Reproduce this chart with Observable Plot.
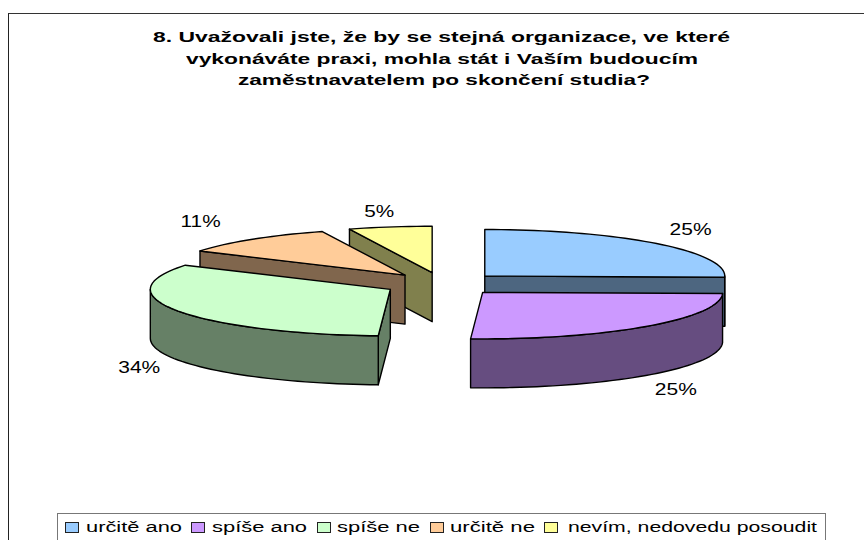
<!DOCTYPE html>
<html><head><meta charset="utf-8">
<script src="https://cdn.jsdelivr.net/npm/d3@7"></script>
<script src="https://cdn.jsdelivr.net/npm/@observablehq/plot@0.6"></script>
<style>
html,body{margin:0;padding:0;background:#fff;}
#page{position:relative;width:864px;height:540px;overflow:hidden;font-family:"Liberation Sans",Arial,sans-serif;color:#000;}
#frame{position:absolute;left:8px;top:13px;width:900px;height:600px;border-left:1.5px solid #222;border-top:1.5px solid #333;box-sizing:border-box;}
#chart{position:absolute;left:0;top:0;}
#legendBox{position:absolute;left:57px;top:513px;width:769px;height:60px;border:1.5px solid #777;box-sizing:border-box;background:#fff;}
.fit{position:absolute;white-space:pre;transform-origin:0 0;}
.title{font-weight:bold;font-size:15.5px;line-height:18px;}
.leg{font-size:15.5px;line-height:18px;}
.sw{position:absolute;width:12px;height:9px;border:1.5px solid #222;}
</style></head><body>
<div id="page"><div id="frame"></div><div id="chart"></div><div id="legendBox"></div></div>
<script>
// data
const categories = ["určitě ano","spíše ano","spíše ne","určitě ne","nevím, nedovedu posoudit"];
const percentLabels = ["25%","25%","34%","11%","5%"];
// slice shares as drawn in the picture (its 3D view skews the angles slightly)
const shares = [25.4,25.4,32.9,10.7,5.6];
const topColors = ["#99CCFF","#CC99FF","#CCFFCC","#FFCC99","#FFFF99"];
const sideColors = ["#4D6680","#664D80","#668066","#80664D","#80804D"];
const titleLines = ["8. Uvažovali jste, že by se stejná organizace, ve které","vykonáváte praxi, mohla stát i Vaším budoucím","zaměstnavatelem po skončení studia?"];

// layout
const pie = {cx:442, cy:283.5, rx:240, ry:46.5, depth:49/46.5, explode:0.246};
const labelNudge = [[34,-14],[30,14],[-39,7.5],[-52,-17],[-11,-15.5]];
const labelWidth = [42,42,42,40,30];
const titleFit = [{l:153,w:577,t:28},{l:186,w:512,t:50},{l:238,w:412,t:71}];
const legendFit = [{s:65,l:86,w:96},{s:191,l:212,w:95},{s:317,l:337,w:83},{s:430,l:450,w:85},{s:544,l:568,w:249}];

const rad = d => d*Math.PI/180;
const pt = (o,a) => [o[0]+Math.sin(a), o[1]+Math.cos(a)];
const down = p => [p[0], p[1]-pie.depth];

function arc(o,a0,a1){
  const n = Math.max(2,Math.ceil(Math.abs(a1-a0)/rad(2)));
  return d3.range(n+1).map(i=>pt(o,a0+(a1-a0)*i/n));
}
const marks = [];
const face = (poly,fill) => marks.push(Plot.line([...poly,poly[0]],{x:d=>d[0],y:d=>d[1],fill,stroke:"#000",strokeWidth:1.4,strokeLinejoin:"round"}));

let cum = 0;
const slices = shares.map((v,i)=>{
  const a0 = rad(cum*3.6); cum += v; const a1 = rad(cum*3.6);
  const m = (a0+a1)/2;
  const o = [pie.explode*Math.sin(m), pie.explode*Math.cos(m)];
  return {i,a0,a1,m,o};
});

// back-to-front painting
const order = [4,3,2,0,1];
for (const k of order){
  const {a0,a1,o} = slices[k];
  if (Math.sin(a0) < -0.001){ const r=pt(o,a0); face([o,r,down(r),down(o)],sideColors[k]); }
  if (Math.sin(a1) >  0.001){ const r=pt(o,a1); face([o,r,down(r),down(o)],sideColors[k]); }
  const lo=Math.max(a0,rad(90)), hi=Math.min(a1,rad(270));
  if (hi>lo){ const rim=arc(o,lo,hi); face([...rim,...rim.slice().reverse().map(down)],sideColors[k]); }
  face([o,...arc(o,a0,a1)],topColors[k]);
}
// percentage labels
slices.forEach(({i,m,o})=>{
  const r = pt(o,m);
  const p = Math.cos(m)<0 ? down(r) : r;
  marks.push(Plot.text([p],{x:d=>d[0],y:d=>d[1],text:()=>percentLabels[i],dx:labelNudge[i][0],dy:labelNudge[i][1],
    fontSize:16,fill:"#000",fontFamily:"Liberation Sans",textAnchor:"middle",lineAnchor:"middle"}));
});

const svg = Plot.plot({width:864,height:540,margin:0,
  x:{domain:[-1,1],range:[pie.cx-pie.rx,pie.cx+pie.rx],axis:null},
  y:{domain:[-1,1],range:[pie.cy+pie.ry,pie.cy-pie.ry],axis:null},
  style:{background:"transparent"},
  marks});
document.getElementById("chart").appendChild(svg);
svg.querySelectorAll("text").forEach((t,i)=>{t.setAttribute("textLength",labelWidth[i]);t.setAttribute("lengthAdjust","spacingAndGlyphs");});

const page = document.getElementById("page");
function fit(text,cls,l,t,w){
  const e=document.createElement("div");e.className="fit "+cls;e.textContent=text;
  e.style.left=l+"px";e.style.top=t+"px";page.appendChild(e);
  e.style.transform="scaleX("+(w/e.getBoundingClientRect().width)+")";
}
titleLines.forEach((s,i)=>fit(s,"title",titleFit[i].l,titleFit[i].t,titleFit[i].w));
categories.forEach((c,i)=>{
  const sw=document.createElement("div");sw.className="sw";sw.style.left=legendFit[i].s+"px";sw.style.top="522px";sw.style.background=topColors[i];page.appendChild(sw);
  fit(c,"leg",legendFit[i].l,518,legendFit[i].w);
});
</script></body></html>
